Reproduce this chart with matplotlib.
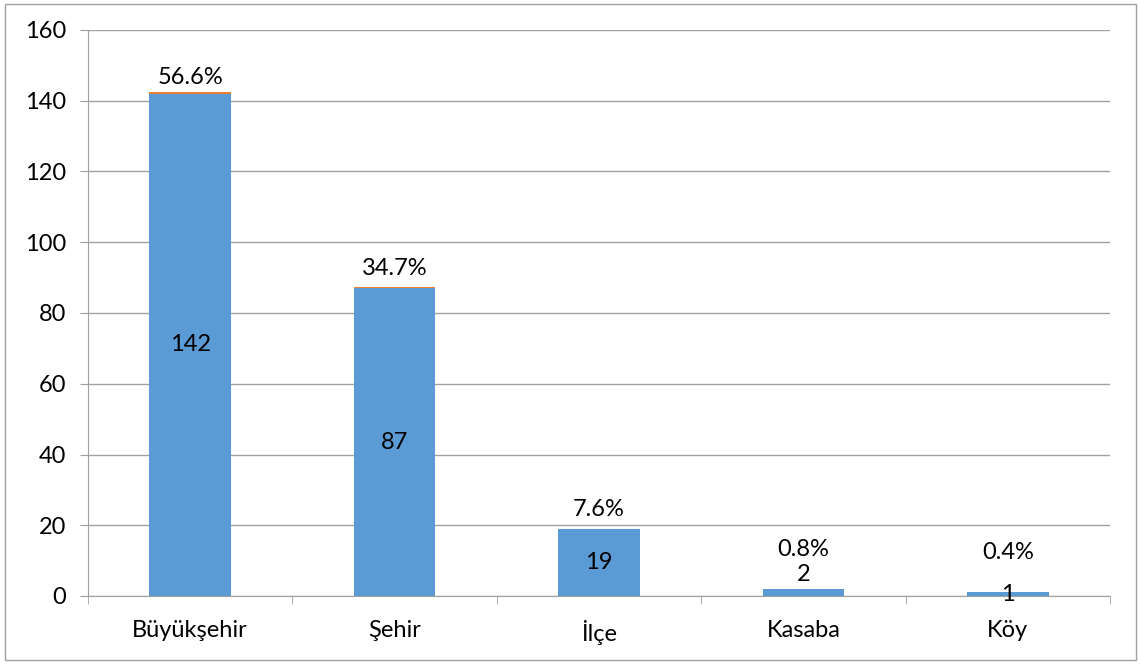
import matplotlib.pyplot as plt
from matplotlib.patches import Rectangle

# data
categories = ["Büyükşehir", "Şehir", "İlçe", "Kasaba", "Köy"]
counts = [142, 87, 19, 2, 1]
shares = [0.566, 0.347, 0.076, 0.008, 0.004]
share_labels = ["56.6%", "34.7%", "7.6%", "0.8%", "0.4%"]

plt.rcParams['font.family'] = ['Lato', 'DejaVu Sans']

fig = plt.figure(figsize=(11.4, 6.64), dpi=100)
ax = fig.add_axes([88 / 1140, 1 - 596 / 664, 1022 / 1140, 566 / 664])

blue = "#5B9BD5"
orange = "#ED7D31"
grid = "#A0A0A0"
fs = 17

x = list(range(len(categories)))
ax.bar(x, counts, width=0.4, color=blue, zorder=3)
ax.bar(x, shares, width=0.4, bottom=counts, color=orange, zorder=3, linewidth=0)

# count labels in the middle of the blue part, share labels above
count_shift = [0, 0, 0, 13, 0]
share_shift = [3, 6, 6, 21, 21]
for i in x:
    ax.annotate(str(counts[i]), (i, counts[i] / 2), xytext=(0, count_shift[i]),
                textcoords="offset points", ha="center", va="center", fontsize=fs)
    ax.annotate(share_labels[i], (i, counts[i] + shares[i]), xytext=(0, share_shift[i]),
                textcoords="offset points", ha="center", va="bottom", fontsize=fs)

ax.set_xlim(-0.5, len(categories) - 0.5)
ax.set_ylim(0, 160)
ax.set_yticks(range(0, 161, 20))
ax.set_xticks(x)
ax.set_xticklabels(categories)
ax.set_xticks([i + 0.5 for i in range(-1, len(categories))], minor=True)

ax.yaxis.grid(True, color=grid, linewidth=1, zorder=0)
for s in ["top", "right"]:
    ax.spines[s].set_visible(False)
ax.spines["left"].set_color(grid)
ax.spines["bottom"].set_color(grid)

ax.tick_params(axis="x", which="major", length=0, pad=17, labelsize=fs)
ax.tick_params(axis="x", which="minor", length=6, color=grid, direction="out")
ax.tick_params(axis="y", length=6, color=grid, pad=10, labelsize=fs)

# outer frame
fig.patches.append(Rectangle((5 / 1140, 4 / 664), 1131 / 1140, 656 / 664,
                             transform=fig.transFigure, fill=False,
                             edgecolor="#A0A0A0", linewidth=1))

fig.savefig("out.png", dpi=100)
